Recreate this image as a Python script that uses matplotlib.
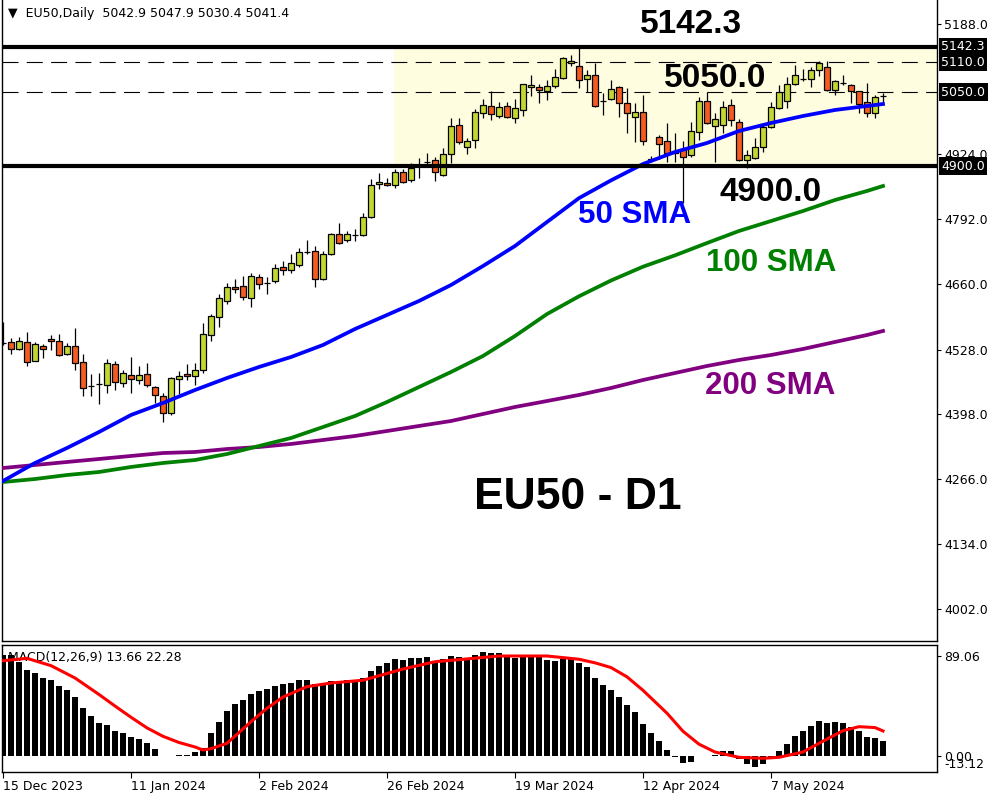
import matplotlib
matplotlib.use('Agg')
import matplotlib.pyplot as plt
import matplotlib.transforms as mtransforms

plt.rcParams['font.family'] = 'DejaVu Sans'
plt.rcParams['lines.scale_dashes'] = False

# daily candles EU50
opens = [
    4541.3, 4543.4, 4529.2, 4543.4, 4504.8, 4535.2, 4549.4, 4545.4, 4519.0, 4535.2,
    4502.8, 4454.2, 4458.2, 4456.2, 4498.8, 4460.2, 4476.5, 4466.3, 4478.5, 4452.1,
    4433.9, 4399.4, 4468.3, 4478.5, 4474.4, 4486.6, 4557.5, 4594.0, 4626.5, 4654.8,
    4656.9, 4632.5, 4675.1, 4663.0, 4667.0, 4695.4, 4689.3, 4699.4, 4725.8, 4727.8,
    4671.1, 4721.7, 4762.3, 4750.1, 4760.3, 4760.3, 4796.8, 4863.6, 4865.7, 4861.6,
    4888.0, 4871.8, 4902.2, 4908.2, 4912.3, 4881.9, 4924.5, 4983.3, 4938.7, 4952.8,
    5007.6, 5021.8, 5001.5, 5021.8, 4997.4, 5013.7, 5060.3, 5060.3, 5052.2, 5062.3,
    5078.5, 5108.9, 5102.9, 5076.5, 5084.6, 5031.9, 5036.0, 5060.3, 5027.9, 4999.5,
    5009.6, 4914.0, 4958.9, 4950.8, 4930.0, 4934.6, 4922.4, 4969.1, 5031.9, 4981.2,
    4983.3, 5023.8, 4989.3, 4912.3, 4916.4, 4938.7, 4979.2, 5017.7, 5031.9, 5066.4,
    5076.5, 5076.5, 5094.7, 5100.8, 5054.2, 5068.4, 5064.3, 5052.2, 5029.9, 5007.6,
    5042.9]
highs = [
    4583.9, 4551.5, 4553.5, 4563.6, 4543.4, 4539.3, 4557.5, 4559.6, 4541.3, 4571.7,
    4519.0, 4478.5, 4480.5, 4508.9, 4504.8, 4486.6, 4512.9, 4494.7, 4500.8, 4454.2,
    4440.0, 4472.4, 4484.6, 4498.8, 4500.8, 4581.9, 4600.1, 4640.7, 4663.0, 4671.1,
    4677.1, 4683.2, 4681.2, 4675.1, 4701.5, 4707.5, 4721.7, 4733.9, 4750.1, 4738.0,
    4727.8, 4764.3, 4784.6, 4768.4, 4772.4, 4804.9, 4873.8, 4885.9, 4875.8, 4894.1,
    4894.1, 4906.2, 4916.4, 4926.5, 4918.4, 4936.6, 4997.4, 4997.4, 4956.9, 5015.7,
    5036.0, 5052.2, 5029.9, 5029.9, 5036.0, 5066.4, 5084.6, 5066.4, 5074.5, 5096.8,
    5121.1, 5125.2, 5143.4, 5094.7, 5108.9, 5048.1, 5074.5, 5062.3, 5058.3, 5027.9,
    5044.1, 4920.0, 4963.0, 4987.3, 4967.0, 4950.8, 4989.3, 5040.0, 5050.1, 5007.6,
    5031.9, 5036.0, 4995.4, 4932.6, 4956.9, 4987.3, 5029.9, 5064.3, 5080.6, 5104.9,
    5096.8, 5100.8, 5113.0, 5113.0, 5074.5, 5084.6, 5066.4, 5053.0, 5068.4, 5044.1,
    5047.9]
lows = [
    4537.3, 4519.0, 4527.1, 4494.7, 4504.8, 4510.9, 4527.1, 4515.0, 4517.0, 4486.6,
    4433.9, 4433.9, 4417.7, 4440.0, 4446.0, 4452.1, 4440.0, 4458.2, 4452.1, 4419.7,
    4381.2, 4395.4, 4437.9, 4466.3, 4456.2, 4480.5, 4545.4, 4573.8, 4620.4, 4642.7,
    4628.5, 4614.3, 4650.8, 4640.7, 4663.0, 4679.2, 4683.2, 4695.4, 4721.7, 4654.8,
    4669.0, 4719.7, 4742.0, 4746.1, 4748.1, 4758.2, 4795.0, 4853.5, 4859.6, 4855.5,
    4865.7, 4867.7, 4875.8, 4898.1, 4869.7, 4879.9, 4906.2, 4944.7, 4924.5, 4936.6,
    4997.4, 4993.4, 4997.4, 4997.4, 4987.3, 5001.5, 5042.0, 5027.9, 5033.9, 5058.3,
    5076.5, 5102.9, 5058.3, 5050.1, 5019.7, 5003.5, 5033.9, 4999.5, 4967.0, 4948.8,
    4942.7, 4908.0, 4914.3, 4908.2, 4908.2, 4825.1, 4918.4, 4952.8, 4985.3, 4908.2,
    4967.0, 4981.2, 4910.0, 4896.1, 4914.3, 4928.5, 4977.2, 5016.0, 5017.7, 5065.0,
    5072.4, 5060.3, 5082.6, 5052.0, 5044.1, 5064.3, 5027.9, 5007.6, 4999.5, 4997.4,
    5030.4]
closes = [
    4541.3, 4529.2, 4545.4, 4502.8, 4539.3, 4529.2, 4545.4, 4517.0, 4535.2, 4500.8,
    4450.1, 4454.2, 4458.2, 4500.8, 4462.3, 4480.5, 4468.3, 4476.5, 4456.2, 4435.9,
    4399.4, 4470.4, 4474.4, 4474.4, 4486.6, 4559.6, 4596.1, 4632.5, 4654.8, 4650.8,
    4634.6, 4677.1, 4660.9, 4663.0, 4693.4, 4689.3, 4703.5, 4725.8, 4725.8, 4671.1,
    4721.7, 4762.3, 4744.0, 4762.3, 4760.3, 4796.8, 4861.6, 4867.7, 4861.6, 4888.0,
    4867.7, 4896.1, 4902.2, 4908.2, 4888.0, 4924.5, 4981.2, 4948.8, 4950.8, 5009.6,
    5023.8, 5005.6, 5019.7, 4999.5, 5017.7, 5066.4, 5064.3, 5054.2, 5062.3, 5080.6,
    5119.1, 5113.0, 5074.5, 5084.6, 5021.8, 5031.9, 5056.2, 5027.9, 5007.6, 5009.6,
    4950.8, 4912.0, 4944.7, 4926.5, 4927.0, 4918.4, 4971.1, 5031.9, 4987.3, 4995.4,
    5019.7, 4993.4, 4912.3, 4922.4, 4938.7, 4979.2, 5019.7, 5050.1, 5066.4, 5084.6,
    5076.5, 5094.7, 5108.9, 5054.2, 5072.4, 5068.4, 5052.2, 5025.8, 5007.6, 5040.0,
    5041.4]

# moving averages, sampled along the chart
sma_idx = [0, 4, 8, 12, 16, 20, 24, 28, 32, 36, 40, 44, 48, 52, 56, 60, 64, 68,
           72, 76, 80, 84, 88, 92, 96, 100, 104, 108, 110]
sma50 = [4261.6, 4298.1, 4328.5, 4360.9, 4395.4, 4419.7, 4446.0, 4470.4, 4492.7,
         4512.9, 4537.3, 4569.7, 4598.1, 4626.5, 4658.9, 4697.4, 4738.0, 4786.6,
         4835.0, 4871.0, 4904.2, 4928.5, 4946.8, 4971.1, 4987.3, 5001.5, 5013.7,
         5021.8, 5025.8]
sma100 = [4259.5, 4265.6, 4273.7, 4279.8, 4290.0, 4298.1, 4304.1, 4316.3, 4332.5,
          4348.7, 4371.0, 4393.3, 4421.7, 4452.1, 4482.5, 4515.0, 4555.5, 4600.0,
          4636.0, 4668.0, 4696.0, 4719.0, 4744.0, 4768.4, 4788.6, 4808.9, 4831.2,
          4849.5, 4859.6]
sma200 = [4287.9, 4294.0, 4300.1, 4306.2, 4312.3, 4318.3, 4320.4, 4326.4, 4330.5,
          4336.6, 4344.7, 4352.8, 4362.9, 4373.1, 4383.2, 4397.4, 4411.6, 4423.7,
          4436.0, 4450.1, 4466.3, 4480.5, 4494.7, 4506.9, 4517.0, 4529.2, 4543.4,
          4557.5, 4565.7]

# MACD(12,26,9)
macd = [
    90.0, 90.0, 84.0, 76.6, 73.7, 69.2, 67.7, 62.4, 58.8, 52.3,
    42.5, 35.7, 29.1, 27.6, 22.3, 20.2, 16.6, 15.2, 11.6, 6.2,
    -0.3, -0.3, 0.5, 1.0, 3.9, 6.8, 20.2, 30.6, 40.1, 46.3,
    49.9, 55.3, 57.6, 59.4, 62.4, 63.9, 64.8, 67.7, 67.7, 63.9,
    64.2, 66.6, 66.6, 67.7, 67.1, 69.2, 75.8, 80.5, 82.6, 86.5,
    85.6, 87.3, 87.3, 88.5, 84.0, 86.5, 89.1, 87.9, 87.0, 90.0,
    92.4, 91.8, 91.5, 88.5, 87.0, 89.1, 88.5, 88.5, 85.6, 84.7,
    86.5, 86.2, 82.6, 79.6, 69.8, 63.3, 58.8, 52.9, 45.5, 39.5,
    28.5, 20.2, 13.7, 5.3, -0.6, -6.5, -5.6, -0.3, -0.3, 0.8,
    4.5, 4.5, -2.4, -7.4, -10.1, -7.4, -0.5, 4.5, 10.7, 17.8,
    22.6, 26.7, 31.2, 29.7, 30.6, 29.1, 25.6, 22.6, 16.9, 16.0,
    13.66]
sig_idx = [0, 3, 6, 9, 12, 14, 16, 18, 20, 22, 24, 25, 26, 28, 31, 33, 35, 38, 41,
           45, 50, 54, 58, 62, 68, 72, 74, 76, 78, 80, 83, 85, 87, 89, 92, 95, 97,
           100, 102, 105, 107, 109, 110]
sig_val = [84.9, 87.0, 80.5, 69.5, 54.8, 44.5, 34.5, 25.0, 17.5, 12.0, 8.0, 5.3,
           6.5, 11.3, 30.5, 42.5, 52.5, 61.8, 65.0, 67.5, 77.5, 84.0, 86.5, 89.1,
           89.1, 86.2, 83.0, 78.8, 70.5, 58.5, 38.1, 22.0, 10.5, 3.5, -1.2, -2.1,
           -1.2, 3.5, 11.3, 22.5, 26.1, 25.3, 22.28]

date_idx = [0, 16, 32, 48, 64, 80, 96]
date_labels = ['15 Dec 2023', '11 Jan 2024', '2 Feb 2024', '26 Feb 2024',
               '19 Mar 2024', '12 Apr 2024', '7 May 2024']
price_ticks = [5188.0, 4924.0, 4792.0, 4660.0, 4528.0, 4398.0, 4266.0, 4134.0, 4002.0]
res_top = 5142.3
res_mid = 5110.0
pivot = 5050.0
sup = 4900.0
box_start = 48.9

bull = '#C3D632'
bear = '#F25C22'
fs = 9

fig = plt.figure(figsize=(10, 8), dpi=100)
ax = fig.add_axes([0.002, 0.19875, 0.935, 0.80125])
ax2 = fig.add_axes([0.002, 0.035, 0.935, 0.15875])
xmax = 116.75

# range box + levels
ax.fill_between([box_start, xmax], sup, res_top, color='#FFFDE0', lw=0, zorder=0)
ax.axhline(res_top, color='black', lw=3, zorder=6)
ax.axhline(sup, color='black', lw=3, zorder=6)
for lvl in [res_mid, pivot]:
    ax.axhline(lvl, color='black', lw=0.8, dashes=(11.5, 6), zorder=1)

# candles
x = list(range(len(closes)))
bottoms = [min(o, c) for o, c in zip(opens, closes)]
heights = [abs(c - o) for o, c in zip(opens, closes)]
cols = [bull if c > o else (bear if c < o else 'black') for o, c in zip(opens, closes)]
ax.vlines(x, lows, highs, color='black', lw=0.9, zorder=3)
ax.bar(x, heights, bottom=bottoms, width=0.64, color=cols, edgecolor='black',
       linewidth=0.9, zorder=4)

ax.plot(sma_idx, sma200, color='#800080', lw=2.7, zorder=5)
ax.plot(sma_idx, sma100, color='#008000', lw=2.7, zorder=5)
ax.plot(sma_idx, sma50, color='#0000FF', lw=2.7, zorder=5)

big = dict(family='Liberation Sans', weight='bold', ha='center', va='center', zorder=8)
ax.text(86, 5186, '5142.3', fontsize=24, color='black', **big)
ax.text(89, 5078.5, '5050.0', fontsize=24, color='black', **big)
ax.text(95.9, 4847, '4900.0', fontsize=24, color='black', **big)
ax.text(79, 4801, '50 SMA', fontsize=22.5, color='#0000FF', **big)
ax.text(96, 4703, '100 SMA', fontsize=22.5, color='#008000', **big)
ax.text(95.9, 4454, '200 SMA', fontsize=22.5, color='#800080', **big)
ax.text(71.9, 4229, 'EU50 - D1', fontsize=32, color='black', **big)

ax.set_xlim(-0.125, xmax)
ax.set_ylim(3937.2, 5236.65)
ax.set_xticks([])
ax.yaxis.tick_right()
ax.set_yticks(price_ticks)
ax.set_yticklabels([f'{v:.1f}' for v in price_ticks])
ax.tick_params(axis='y', length=3, width=0.8, pad=2, labelsize=fs)
ax.spines['top'].set_visible(False)
for s in ['left', 'right', 'bottom']:
    ax.spines[s].set_linewidth(1)

trans = mtransforms.blended_transform_factory(ax.transAxes, ax.transData)
for lvl in [res_top, res_mid, pivot, sup]:
    ax.text(1.0045, lvl, f'{lvl:.1f}', transform=trans, color='white', fontsize=fs,
            ha='left', va='center', clip_on=False, zorder=10,
            bbox=dict(boxstyle='square,pad=0.2', fc='black', ec='none'))

fig.text(0.008, 1 - 14 / 800, '\u25bc  EU50,Daily  5042.9 5047.9 5030.4 5041.4',
         fontsize=fs, va='center', ha='left')

# MACD panel
ax2.bar(x, macd, width=0.66, color='black', zorder=2)
ax2.plot(sig_idx, sig_val, color='#FF0000', lw=2.2, zorder=3)
ax2.text(0.0064, 0.905, 'MACD(12,26,9) 13.66 22.28', transform=ax2.transAxes,
         fontsize=fs, va='center', ha='left', zorder=1)
ax2.set_xlim(-0.125, xmax)
ax2.set_ylim(-14.3, 98.9)
ax2.yaxis.tick_right()
ax2.set_yticks([89.06, 0.0])
ax2.set_yticklabels(['89.06', '0.00'])
ax2.tick_params(axis='y', length=3, width=0.8, pad=2, labelsize=fs)
trans2 = mtransforms.blended_transform_factory(ax2.transAxes, ax2.transData)
ax2.text(1.0075, -13.12, '-13.12', transform=trans2, fontsize=fs, ha='left',
         va='bottom', clip_on=False)
ax2.set_xticks(date_idx)
ax2.set_xticklabels(date_labels, ha='left')
ax2.tick_params(axis='x', length=4, width=0.8, pad=2, labelsize=fs)
for s in ax2.spines.values():
    s.set_linewidth(1)

fig.savefig('out.png', dpi=100, facecolor='white')
